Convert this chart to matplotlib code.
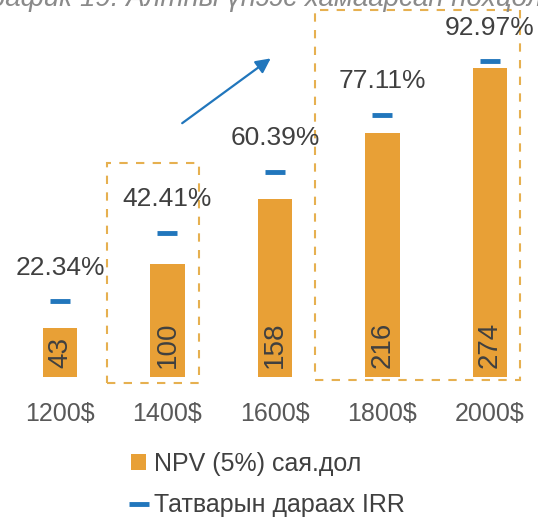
import matplotlib
matplotlib.use("Agg")
import matplotlib.pyplot as plt
from matplotlib.patches import Rectangle, FancyArrowPatch

plt.rcParams["font.family"] = ["Liberation Sans", "DejaVu Sans"]

prices = ["1200$", "1400$", "1600$", "1800$", "2000$"]
npv = [43, 100, 158, 216, 274]
irr = [22.34, 42.41, 60.39, 77.11, 92.97]

bar_color = "#E8A036"
irr_color = "#2176BC"
box_color = "#E6B050"
text_color = "#404040"

fig = plt.figure(figsize=(5.38, 5.23), dpi=100)
ax1 = fig.add_axes([0, 0.2792, 1, 0.7208])
ax2 = ax1.twinx()

x = list(range(len(prices)))
bars = ax1.bar(x, npv, width=0.32, color=bar_color, label="NPV (5%) сая.дол", zorder=2)
for xi, v in zip(x, npv):
    ax1.text(xi, 8, str(v), rotation=90, ha="center", va="bottom",
             fontsize=20, color=text_color, zorder=3)

line, = ax2.plot(x, irr, linestyle="none", marker="_", markersize=14,
                 markeredgewidth=3.5, color=irr_color, label="Татварын дараах IRR")
for xi, v in zip(x, irr):
    ax2.annotate(f"{v:.2f}%", (xi, v), xytext=(0, 19), textcoords="offset points",
                 ha="center", va="baseline", fontsize=19, color=text_color)

ax1.set_xlim(-0.558, 4.447)
ax1.set_ylim(0, 334)
ax2.set_ylim(0, 110.9)

ax1.set_xticks(x)
ax1.set_xticklabels(prices, fontsize=18, color="#595959")
ax1.tick_params(axis="x", length=0, pad=18)
ax1.set_yticks([])
ax2.set_yticks([])
for a in (ax1, ax2):
    for s in a.spines.values():
        s.set_visible(False)

# dashed frames around the 1400$ bar and the 1800$-2000$ group
for x0, x1, y0, y1 in [(0.437, 1.293, -5.3, 189.7), (2.372, 4.279, -2.7, 325)]:
    ax1.add_patch(Rectangle((x0, y0), x1 - x0, y1 - y0, fill=False,
                            edgecolor=box_color, linestyle=(0, (4, 4)),
                            linewidth=1.5, clip_on=False, zorder=1))

ax1.add_patch(FancyArrowPatch((1.116, 223.4), (1.981, 283.7), arrowstyle="-|>",
                              mutation_scale=22, color=irr_color, linewidth=1.6,
                              clip_on=False))

fig.text(-0.045, 1 - 6 / 523, "График 19. Алтны үнээс хамаарсан нөхцөл",
         fontsize=20, style="italic", color="#8A8A8A", va="baseline")

fig.legend(handles=[bars, line], loc="upper left", bbox_to_anchor=(0.225, 0.155),
           frameon=False, fontsize=18, handlelength=0.6, handleheight=0.6,
           handletextpad=0.3, labelspacing=0.7, borderaxespad=0,
           labelcolor=text_color)

fig.savefig("out.png", dpi=100)
